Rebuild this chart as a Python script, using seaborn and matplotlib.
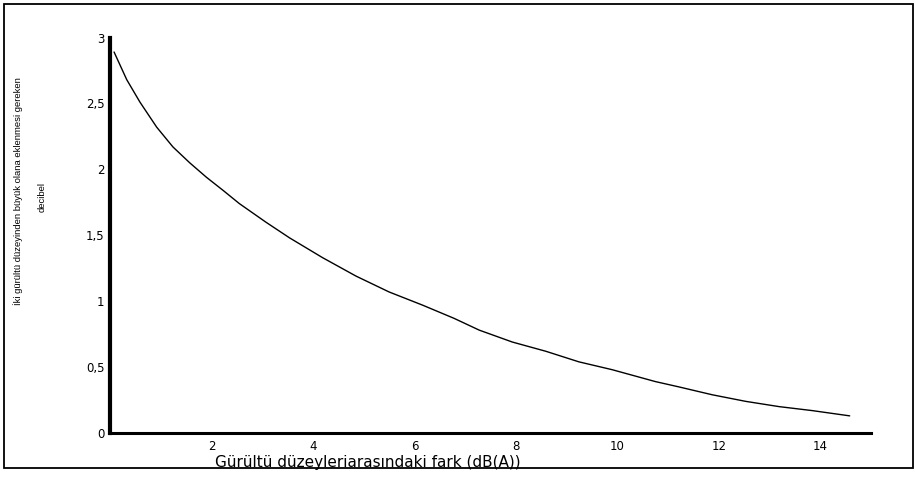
import matplotlib
matplotlib.use("Agg")
import matplotlib.pyplot as plt
import matplotlib.patches as mpatches
import seaborn as sns
import pandas as pd

## ---------------------------------------------------------------
## data
## ---------------------------------------------------------------
level_diff = [0.08, 0.33, 0.59, 0.92, 1.24, 1.57, 1.90, 2.23, 2.55, 3.07,
              3.54, 4.19, 4.85, 5.50, 6.16, 6.78, 7.28, 7.93, 8.59, 9.24,
              9.90, 10.75, 11.21, 11.87, 12.53, 13.19, 13.84, 14.58]
db_added = [2.89, 2.68, 2.51, 2.32, 2.17, 2.05, 1.94, 1.84, 1.74, 1.60,
            1.48, 1.33, 1.19, 1.07, 0.97, 0.87, 0.78, 0.69, 0.62, 0.54,
            0.48, 0.39, 0.35, 0.29, 0.24, 0.20, 0.17, 0.13]

x_ticks = [2, 4, 6, 8, 10, 12, 14]
y_ticks = [0, 0.5, 1, 1.5, 2, 2.5, 3]
y_tick_labels = ['0', '0,5', '1', '1,5', '2', '2,5', '3']

x_title = 'Gürültü düzeyleriarasındaki fark (dB(A))'
y_title_1 = 'İki gürültü düzeyinden büyük olana eklenmesi gereken'
y_title_2 = 'decibel'

df = pd.DataFrame({'fark': level_diff, 'eklenen': db_added})

## ---------------------------------------------------------------
## figure
## ---------------------------------------------------------------
sns.set_theme(style='white')
plt.rcParams['font.family'] = ['DejaVu Sans']

W, H = 915, 480
fig = plt.figure(figsize=(W / 100, H / 100), dpi=100)
fig.patch.set_facecolor('white')

# axes box in pixel terms: x=0 at 110 px, x=15 at 871 px, y=0 at 433 px, y=3 at 37.5 px
ax = fig.add_axes([110 / W, 1 - 433 / H, (871 - 110) / W, (433 - 37.5) / H])

sns.lineplot(data=df, x='fark', y='eklenen', color='black', linewidth=1.0, ax=ax)

ax.set_xlim(0, 15)
ax.set_ylim(0, 3)
ax.set_xticks(x_ticks)
ax.set_xticklabels([str(t) for t in x_ticks])
ax.set_yticks(y_ticks)
ax.set_yticklabels(y_tick_labels)
ax.tick_params(axis='both', length=0, labelsize=8.5, colors='black')
ax.tick_params(axis='x', pad=5)
ax.tick_params(axis='y', pad=4)
ax.set_xlabel('')
ax.set_ylabel('')

for side in ['top', 'right']:
    ax.spines[side].set_visible(False)
ax.spines['left'].set_linewidth(3.0)
ax.spines['left'].set_color('black')
ax.spines['bottom'].set_linewidth(2.2)
ax.spines['bottom'].set_color('black')
ax.patch.set_alpha(0)

# axis titles
fig.text(215 / W, 1 - 463 / H, x_title, ha='left', va='center',
         fontsize=11, color='black')
narrow = ['Liberation Sans', 'DejaVu Sans']
fig.text(18 / W, 1 - 191 / H, y_title_1, rotation=90, ha='center', va='center',
         fontsize=6.8, color='black', family=narrow)
fig.text(42 / W, 1 - 197 / H, y_title_2, rotation=90, ha='center', va='center',
         fontsize=6.8, color='black', family=narrow)

# outer frame
frame = mpatches.Rectangle((4 / W, 1 - 468 / H), (913 - 4) / W, (468 - 4) / H,
                           transform=fig.transFigure, fill=False,
                           edgecolor='black', linewidth=1.3)
fig.patches.append(frame)

fig.savefig('out.png', dpi=100, facecolor='white')
